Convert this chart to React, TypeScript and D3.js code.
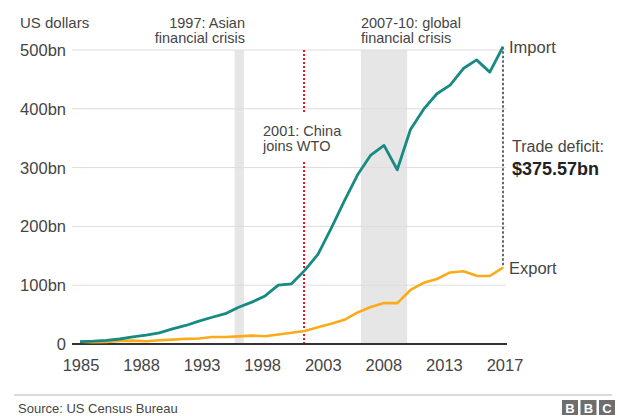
import React from "react";
import * as d3 from "d3";

// US goods trade with China, billions of US dollars
const years: number[] = [
  1985, 1986, 1987, 1988, 1989, 1990, 1991, 1992, 1993, 1994, 1995,
  1996, 1997, 1998, 1999, 2000, 2001, 2002, 2003, 2004, 2005, 2006,
  2007, 2008, 2009, 2010, 2011, 2012, 2013, 2014, 2015, 2016, 2017,
];
const imports: number[] = [
  3.9, 4.8, 6.3, 8.5, 12.0, 15.2, 19.0, 25.7, 31.5, 38.8, 45.5,
  51.5, 62.6, 71.2, 81.8, 100.0, 102.3, 125.2, 152.4, 196.7, 243.5, 287.8,
  321.4, 337.8, 296.4, 364.9, 399.4, 425.6, 440.4, 468.5, 483.2, 462.4, 505.5,
];
const exports: number[] = [
  3.9, 3.1, 3.5, 5.0, 5.8, 4.8, 6.3, 7.4, 8.8, 9.3, 11.8,
  12.0, 12.9, 14.2, 13.1, 16.2, 19.2, 22.1, 28.4, 34.4, 41.2, 53.7,
  62.9, 69.7, 69.5, 91.9, 104.1, 110.5, 121.7, 123.7, 115.9, 115.6, 129.9,
];
const tradeDeficit = 375.57;

const xTickLabels: string[] = ["1985", "1988", "1993", "1998", "2003", "2008", "2013", "2017"];
const yTicks: number[] = [0, 100, 200, 300, 400, 500];

// Shaded crisis periods (fractional years)
const crisisBands: { from: number; to: number }[] = [
  { from: 1996.7, to: 1997.4 },
  { from: 2006.25, to: 2009.75 },
];
const wtoDate = 2001.95;

const W = 618;
const H = 416;
const FONT = "'Liberation Sans', Arial, Helvetica, sans-serif";
const TEXT = "#454545";
const IMPORT_COLOR = "#178b83";
const EXPORT_COLOR = "#fbab18";

export default function App() {
  const x = d3.scaleLinear().domain([1985, 2017]).range([80, 503]);
  const y = d3.scaleLinear().domain([0, 500]).range([344, 50]);
  const xLabel = d3.scalePoint<string>().domain(xTickLabels).range([81, 505]);

  const line = d3
    .line<number>()
    .x((_, i) => x(years[i]))
    .y((d) => y(d));

  const lastYear = years[years.length - 1];
  const lastImport = imports[imports.length - 1];
  const lastExport = lastImport - tradeDeficit;
  const gx = x(crisisBands[1].from);

  return (
    <svg
      width={W}
      height={H}
      viewBox={`0 0 ${W} ${H}`}
      style={{ position: "absolute", left: 0, top: 0, background: "#fff" }}
      fontFamily={FONT}
    >
      {/* crisis bands */}
      {crisisBands.map((b, i) => (
        <rect
          key={i}
          x={x(b.from)}
          y={y(500)}
          width={x(b.to) - x(b.from)}
          height={y(0) - y(500)}
          fill="#e6e6e6"
        />
      ))}

      {/* gridlines and y labels */}
      {yTicks.map((t) => (
        <g key={t}>
          {t > 0 && (
            <line x1={72} x2={506} y1={y(t)} y2={y(t)} stroke="#dcdcdc" strokeWidth={1} />
          )}
          <text
            x={66}
            y={y(t)}
            dy="0.36em"
            textAnchor="end"
            fontSize={16.5}
            fill={TEXT}
          >
            {t === 0 ? "0" : `${t}bn`}
          </text>
        </g>
      ))}

      <text x={20} y={28} fontSize={15} fill={TEXT}>
        US dollars
      </text>

      {/* crisis annotations */}
      <text x={245} y={28} fontSize={14.5} fill={TEXT} textAnchor="end">
        1997: Asian
      </text>
      <text x={245} y={43} fontSize={14.5} fill={TEXT} textAnchor="end">
        financial crisis
      </text>
      <text x={gx} y={28} fontSize={14.5} fill={TEXT}>
        2007-10: global
      </text>
      <text x={gx} y={43} fontSize={14.5} fill={TEXT}>
        financial crisis
      </text>

      {/* WTO marker */}
      <line
        x1={x(wtoDate)}
        x2={x(wtoDate)}
        y1={y(500)}
        y2={113}
        stroke="#dc141e"
        strokeWidth={2}
        strokeDasharray="2 2"
      />
      <line
        x1={x(wtoDate)}
        x2={x(wtoDate)}
        y1={162}
        y2={y(0)}
        stroke="#dc141e"
        strokeWidth={2}
        strokeDasharray="2 2"
      />
      <text x={263} y={136} fontSize={14.5} fill={TEXT}>
        2001: China
      </text>
      <text x={263} y={150.5} fontSize={14.5} fill={TEXT}>
        joins WTO
      </text>

      {/* x baseline */}
      <line x1={72} x2={507} y1={y(0)} y2={y(0)} stroke="#333" strokeWidth={2} />

      {/* x tick labels */}
      {xTickLabels.map((l) => (
        <text
          key={l}
          x={xLabel(l)}
          y={371}
          textAnchor="middle"
          fontSize={16.5}
          fill={TEXT}
        >
          {l}
        </text>
      ))}

      {/* trade deficit bracket */}
      <line
        x1={x(lastYear)}
        x2={x(lastYear)}
        y1={y(lastImport)}
        y2={y(lastExport)}
        stroke="#555"
        strokeWidth={1.8}
        strokeDasharray="2.5 2"
      />

      {/* series */}
      <path
        d={line(exports) || ""}
        fill="none"
        stroke={EXPORT_COLOR}
        strokeWidth={2.6}
        strokeLinejoin="round"
      />
      <path
        d={line(imports) || ""}
        fill="none"
        stroke={IMPORT_COLOR}
        strokeWidth={2.8}
        strokeLinejoin="round"
      />

      <text x={509} y={y(lastImport)} dy="0.36em" fontSize={16.5} fill={TEXT}>
        Import
      </text>
      <text x={509} y={y(lastExport)} dy="0.36em" fontSize={16.5} fill={TEXT}>
        Export
      </text>
      <text x={512} y={152} fontSize={16} fill={TEXT}>
        Trade deficit:
      </text>
      <text x={512} y={175} fontSize={18} fontWeight="bold" fill="#222">
        {`$${tradeDeficit.toFixed(2)}bn`}
      </text>

      {/* footer */}
      <line x1={14} x2={612} y1={395} y2={395} stroke="#cfcfcf" strokeWidth={1.5} />
      <text x={18} y={413} fontSize={13} fill={TEXT}>
        Source: US Census Bureau
      </text>
      {["B", "B", "C"].map((c, i) => (
        <g key={i} transform={`translate(${562 + i * 18.5},400)`}>
          <rect width={16} height={15} fill="#6e6e6e" />
          <text
            x={8}
            y={12.5}
            textAnchor="middle"
            fontSize={13}
            fontWeight="bold"
            fill="#fff"
          >
            {c}
          </text>
        </g>
      ))}
    </svg>
  );
}
